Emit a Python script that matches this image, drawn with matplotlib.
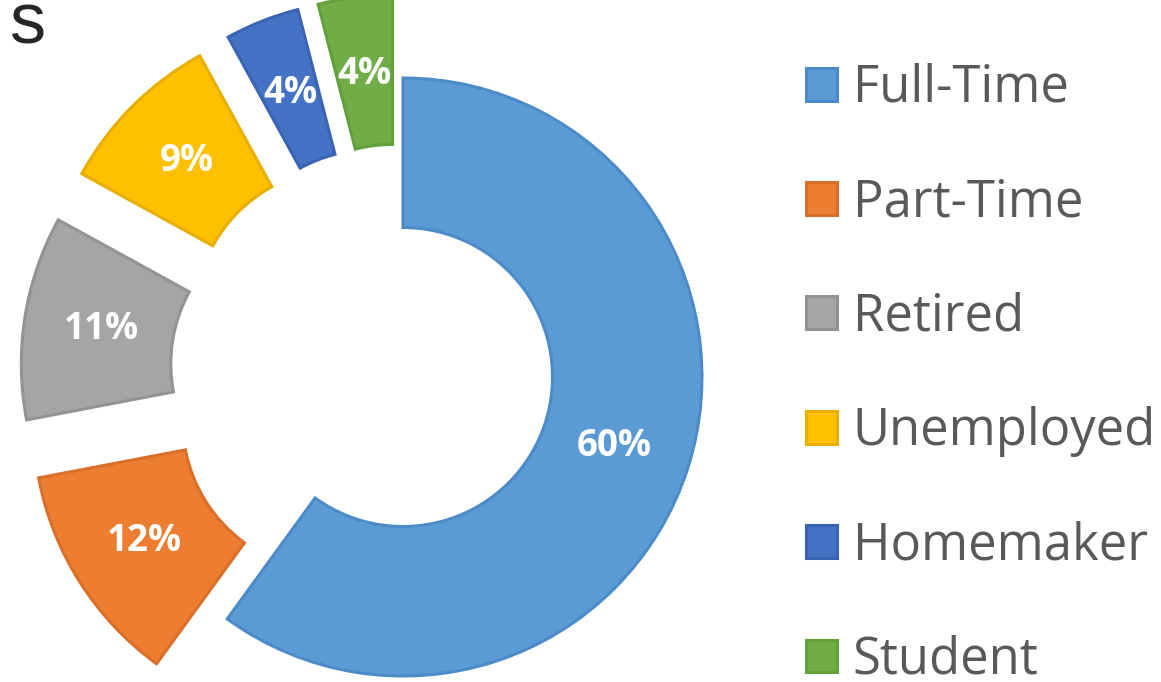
import numpy as np
import matplotlib.pyplot as plt

categories = ["Full-Time", "Part-Time", "Retired", "Unemployed", "Homemaker", "Student"]
shares = [60, 12, 11, 9, 4, 4]
explode = [0, 0.28, 0.28, 0.28, 0.28, 0.28]
colors = ["#5B9BD5", "#ED7D31", "#A5A5A5", "#FFC000", "#4472C4", "#70AD47"]
edge_colors = ["#4C8BC8", "#D96F28", "#939393", "#E8AE00", "#3A64B3", "#62A03B"]
title = "s"  # only the tail of the cropped title shows

W, H, DPI = 1161, 682, 100
fig = plt.figure(figsize=(W / DPI, H / DPI), dpi=DPI)
ax = fig.add_axes([0, 0, 1, 1])

wedges, texts, autotexts = ax.pie(
    shares, explode=explode, colors=colors, startangle=90, counterclock=False,
    radius=1.0, autopct="%d%%", pctdistance=0.743,
    wedgeprops=dict(width=0.5, linewidth=2.2),
    textprops=dict(color="white", fontsize=26.5, fontweight="bold", family="Open Sans"),
)
for w, ec in zip(wedges, edge_colors):
    w.set_edgecolor(ec)

# pie centre sits at (403, 377) px, radius ~299 px
R_px, cx, cy = 299.0, 403.0, 377.0
ax.set_xlim(-cx / R_px, (W - cx) / R_px)
ax.set_ylim(-(H - cy) / R_px, cy / R_px)
ax.set_aspect("auto")
ax.axis("off")

leg = ax.legend(
    wedges, categories, loc="upper left", bbox_to_anchor=(806 / W, 1 - 63 / H),
    bbox_transform=fig.transFigure, frameon=False, borderpad=0, borderaxespad=0,
    prop=dict(family="Open Sans", size=36.5), labelcolor="#595959",
    handlelength=0.62, handleheight=0.62, handletextpad=0.3, labelspacing=1.25,
)

fig.text(9 / W, 1 - 43 / H, title, ha="left", va="baseline", fontsize=52,
         family="Liberation Sans", color="#262626")

fig.savefig("out.png", dpi=DPI)
